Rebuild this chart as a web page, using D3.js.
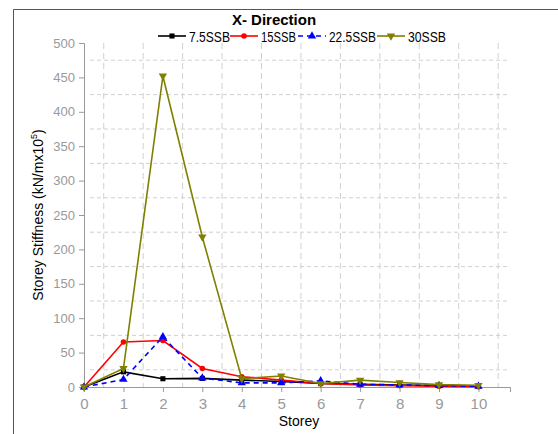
<!DOCTYPE html>
<html>
<head>
<meta charset="utf-8">
<script src="https://cdn.jsdelivr.net/npm/d3@7"></script>
<style>
  body { margin: 0; background: #fff; }
  svg text { font-family: "Liberation Sans", Arial, sans-serif; }
</style>
</head>
<body>
<script>
// Storey stiffness per storey, X- direction
var storeys = [0, 1, 2, 3, 4, 5, 6, 7, 8, 9, 10];
var ssb75 = [0, 22, 12, 12.5, 10, 8, 5, 4, 3, 2, 1];
var ssb15 = [0, 65.5, 67.5, 27, 15, 10, 5, 3, 2, 1, 0.5];
var ssb225 = [0, 11, 73, 13, 6, 6, 9, 4, 3, 2, 1];
var ssb30 = [0, 27, 452, 218, 12, 16, 5, 10, 6.5, 3.5, 2.5];
var seriesNames = ['7.5SSB', '15SSB', '22.5SSB', '30SSB'];
var yTicks = [0, 50, 100, 150, 200, 250, 300, 350, 400, 450, 500];

var series = [
  { name: seriesNames[0], values: ssb75, color: '#000000', symbol: d3.symbolSquare, size: 26, dash: null },
  { name: seriesNames[1], values: ssb15, color: '#ff0000', symbol: d3.symbolCircle, size: 24, dash: null },
  { name: seriesNames[2], values: ssb225, color: '#0000ff', symbol: d3.symbolTriangle, size: 30, dash: '5,4' },
  { name: seriesNames[3], values: ssb30, color: '#808000', symbol: d3.symbolTriangle, size: 30, dash: null, flip: true }
];

var W = 558, H = 434;
var svg = d3.select('body').append('svg').attr('width', W).attr('height', H);

// outer frame
svg.append('path')
  .attr('d', 'M13.5,' + H + 'V9.5H' + W)
  .attr('fill', 'none').attr('stroke', '#555').attr('stroke-width', 1);

var x = d3.scaleLinear().domain([0, 10.8]).range([84, 510]);
var y = d3.scaleLinear().domain([0, 500]).range([387, 43]);

// grid (dashed) at the half positions
var gridX = d3.range(0.5, 10.6, 1);
var gridY = d3.range(25, 500, 50);
svg.append('g').selectAll('line').data(gridX).enter().append('line')
  .attr('x1', d => x(d)).attr('x2', d => x(d))
  .attr('y1', y(500)).attr('y2', y(0))
  .attr('stroke', '#d0d0d0').attr('stroke-dasharray', '6,4');
svg.append('g').selectAll('line').data(gridY).enter().append('line')
  .attr('x1', x(0) + 6).attr('x2', x(10.8))
  .attr('y1', d => y(d)).attr('y2', d => y(d))
  .attr('stroke', '#d0d0d0').attr('stroke-dasharray', '4,3');

// axes
var xAxis = svg.append('g').attr('transform', 'translate(0,' + y(0) + ')')
  .call(d3.axisBottom(x).tickValues(storeys).tickSize(5).tickPadding(6).tickFormat(d3.format('d')));
var yAxis = svg.append('g').attr('transform', 'translate(' + x(0) + ',0)')
  .call(d3.axisLeft(y).tickValues(yTicks).tickSize(5).tickPadding(4));

svg.selectAll('.domain, .tick line').attr('stroke', '#999');
xAxis.selectAll('text').attr('fill', '#999').style('font-size', '15px');
yAxis.selectAll('text').attr('fill', '#999').style('font-size', '13px');

// axis titles
svg.append('text').attr('x', 299).attr('y', 426).attr('text-anchor', 'middle')
  .style('font-size', '14px').text('Storey');
var yt = svg.append('text').attr('transform', 'translate(43,215) rotate(-90)')
  .attr('text-anchor', 'middle').style('font-size', '14px');
yt.append('tspan').text('Storey Stiffness (kN/mx10');
yt.append('tspan').attr('dy', -6).style('font-size', '9px').text('5');
yt.append('tspan').attr('dy', 6).text(')');

// title
svg.append('text').attr('x', 274).attr('y', 25).attr('text-anchor', 'middle')
  .style('font-size', '15px').style('font-weight', 'bold').text('X- Direction');

function symbolPath(s) {
  return d3.symbol().type(s.symbol).size(s.size)();
}

// series lines and markers
var line = d3.line().x((d, i) => x(storeys[i])).y(d => y(d));
series.forEach(function(s) {
  svg.append('path').datum(s.values)
    .attr('d', line).attr('fill', 'none')
    .attr('stroke', s.color).attr('stroke-width', 1.6)
    .attr('stroke-dasharray', s.dash);
  svg.append('g').selectAll('path').data(s.values).enter().append('path')
    .attr('d', symbolPath(s))
    .attr('transform', (d, i) => 'translate(' + x(storeys[i]) + ',' + y(d) + ')' + (s.flip ? ' rotate(180)' : ''))
    .attr('fill', s.color);
});

// legend
var legendX = [158, 230, 298, 377];
var legendTextW = [41, 35, 47, 38];
var leg = svg.append('g');
series.forEach(function(s, i) {
  var g = leg.append('g').attr('transform', 'translate(' + legendX[i] + ',36)');
  g.append('line').attr('x1', 0).attr('x2', 28).attr('y1', 0).attr('y2', 0)
    .attr('stroke', s.color).attr('stroke-width', 1.6).attr('stroke-dasharray', s.dash);
  g.append('path').attr('d', symbolPath(s))
    .attr('transform', 'translate(14,0)' + (s.flip ? ' rotate(180)' : ''))
    .attr('fill', s.color);
  g.append('text').attr('x', 31).attr('y', 6).style('font-size', '15px')
    .attr('textLength', legendTextW[i]).attr('lengthAdjust', 'spacingAndGlyphs')
    .text(s.name);
});
</script>
</body>
</html>
